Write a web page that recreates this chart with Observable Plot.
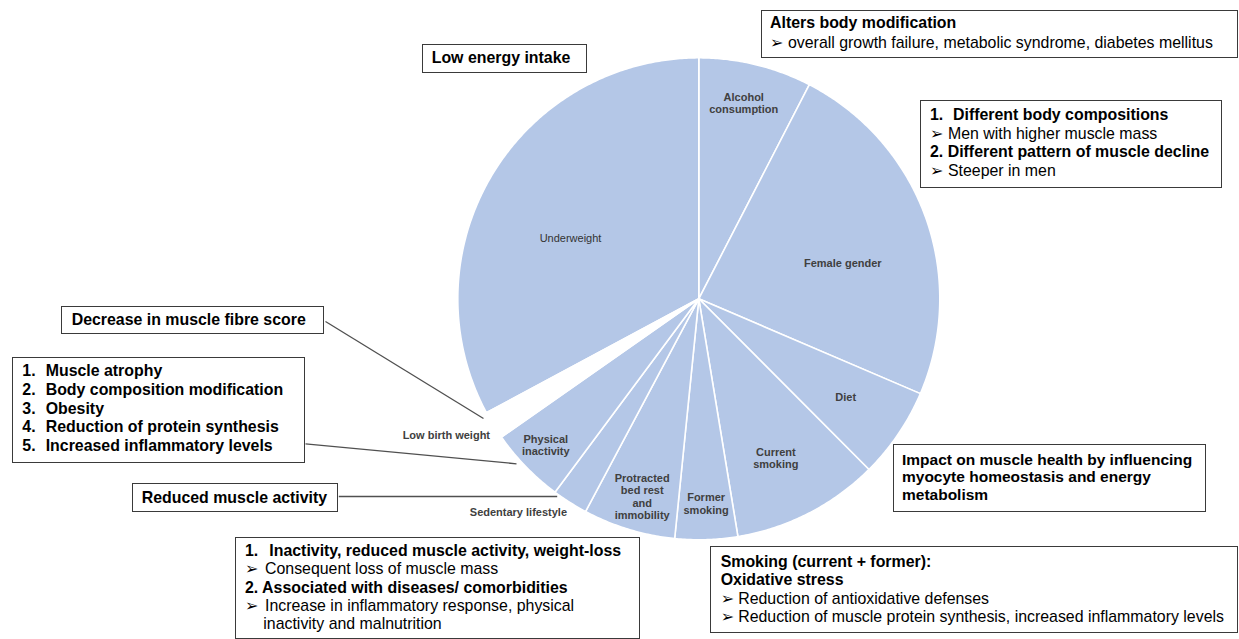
<!DOCTYPE html>
<html>
<head>
<meta charset="utf-8">
<script src="https://cdn.jsdelivr.net/npm/d3@7"></script>
<script src="https://cdn.jsdelivr.net/npm/@observablehq/plot@0.6"></script>
<style>
  html, body { margin: 0; padding: 0; background: #fff; }
  #wrap { position: relative; width: 1239px; height: 639px; overflow: hidden; font-family: "Liberation Sans", Arial, sans-serif; }
  #wrap svg { position: absolute; left: 0; top: 0; }
  .box { position: absolute; border: 1px solid #3a3a3a; background: #fff; box-sizing: border-box; }
  .ln { position: absolute; white-space: nowrap; color: #000; }
  .ar { display: inline-block; font-family: "DejaVu Sans", sans-serif; font-size: 16px; font-weight: normal; }
</style>
</head>
<body>
<div id="wrap"></div>
<script>
// ---- data ----
const categories = [
  "Alcohol consumption", "Female gender", "Diet", "Current smoking", "Former smoking",
  "Protracted bed rest and immobility", "Sedentary lifestyle", "Physical inactivity",
  "Low birth weight", "Underweight"
];
const shares = [7.6, 23.9, 6.1, 9.9, 4.2, 6.2, 2.4, 5.1, 1.9, 32.9];
const sliceLabels = [
  "Alcohol\nconsumption", "Female gender", "Diet", "Current\nsmoking", "Former\nsmoking",
  "Protracted\nbed rest\nand\nimmobility", "Sedentary lifestyle", "Physical\ninactivity",
  "Low birth weight", "Underweight"
];

// ---- layout ----
const W = 1239, H = 639;
const cx = 698.3, cy = 298.3, R = 241;
const labelLayout = {
  "Alcohol consumption": {r: 0.832, da: -0.7},
  "Female gender": {r: 0.615, da: 6.0},
  "Diet": {r: 0.733, da: -0.4},
  "Current smoking": {r: 0.735, da: 1.35},
  "Former smoking": {r: 0.85, da: -0.25},
  "Protracted bed rest and immobility": {r: 0.853, da: -0.9},
  "Sedentary lifestyle": {r: 1.16, da: 7.85},
  "Physical inactivity": {r: 0.878, da: 0.5},
  "Low birth weight": {r: 1.19, da: 3.3},
  "Underweight": {r: 0.588, da: -5.75}
};
const leaders = [
  {x1: 325, y1: 321, x2: 483, y2: 418},
  {x1: 305, y1: 443.3, x2: 516, y2: 463.3},
  {x1: 338.3, y1: 496, x2: 556.7, y2: 496}
];

const pieData = categories.map((c, i) => ({category: c, value: shares[i], label: sliceLabels[i]}));
const arcs = d3.pie().sort(null).value(d => d.value)(pieData);

const pts = [];
for (const a of arcs) {
  pts.push({category: a.data.category, x: cx, y: cy});
  const n = Math.max(2, Math.ceil((a.endAngle - a.startAngle) / (Math.PI / 360)));
  for (let k = 0; k <= n; k++) {
    const t = a.startAngle + (a.endAngle - a.startAngle) * k / n;
    pts.push({category: a.data.category, x: cx + R * Math.sin(t), y: cy - R * Math.cos(t)});
  }
}
const labels = arcs.map(a => {
  const L = labelLayout[a.data.category];
  const t = (a.startAngle + a.endAngle) / 2 + L.da * Math.PI / 180;
  return {text: a.data.label, category: a.data.category,
          x: cx + L.r * R * Math.sin(t), y: cy - L.r * R * Math.cos(t)};
});

const isGap = d => d.category === "Low birth weight";
const isPlain = d => d.category === "Underweight";
const labelFont = "Liberation Sans, Arial, sans-serif";

const plot = Plot.plot({
  width: W, height: H, margin: 0,
  x: {domain: [0, W], range: [0, W], axis: null},
  y: {domain: [0, H], range: [0, H], axis: null},
  marks: [
    Plot.line(pts.filter(d => !isGap(d)), {x: "x", y: "y", z: "category", curve: "linear-closed",
      fill: "#b4c7e7", stroke: "white", strokeWidth: 1.6}),
    Plot.line(pts.filter(isGap), {x: "x", y: "y", z: "category", curve: "linear-closed",
      fill: "white", stroke: "white", strokeWidth: 1.6}),
    Plot.link(leaders, {x1: "x1", y1: "y1", x2: "x2", y2: "y2", stroke: "#505050", strokeWidth: 1.3}),
    Plot.text(labels.filter(d => !isPlain(d)), {x: "x", y: "y", text: "text", fontSize: 11, lineHeight: 1.12,
      fontWeight: "bold", fill: "#404040", fontFamily: labelFont}),
    Plot.text(labels.filter(isPlain), {x: "x", y: "y", text: "text", fontSize: 11,
      fontWeight: "normal", fill: "#333333", fontFamily: labelFont})
  ]
});
const wrap = document.getElementById("wrap");
wrap.appendChild(plot);

// ---- annotation boxes ----
const boxes = [
  {l: 422, t: 44, r: 587, b: 73, x: 431.7, base: 63.3, lh: 18.5, fs: 15.9,
   lines: [{t: "Low energy intake", bold: true}]},
  {l: 761, t: 10, r: 1238, b: 58, x: 770, base: 28.3, lh: 20, fs: 15.9,
   lines: [{t: "Alters body modification", bold: true},
           {t: "overall growth failure, metabolic syndrome, diabetes mellitus", arrow: 18}]},
  {l: 920, t: 100, r: 1222, b: 188, x: 930, base: 120.7, lh: 18.7, fs: 15.9,
   lines: [{num: "1.", ind: 23, t: "Different body compositions", bold: true},
           {t: "Men with higher muscle mass", arrow: 18},
           {t: "2. Different pattern of muscle decline", bold: true},
           {t: "Steeper in men", arrow: 18}]},
  {l: 893, t: 444, r: 1206, b: 512, x: 902, base: 465, lh: 17.5, fs: 15.5,
   lines: [{t: "Impact on muscle health by influencing", bold: true},
           {t: "myocyte homeostasis and energy", bold: true},
           {t: "metabolism", bold: true}]},
  {l: 710, t: 546, r: 1238, b: 633, x: 720.7, base: 567.3, lh: 18.5, fs: 15.9,
   lines: [{t: "Smoking (current + former):", bold: true},
           {t: "Oxidative stress", bold: true},
           {t: "Reduction of antioxidative defenses", arrow: 17.5},
           {t: "Reduction of muscle protein synthesis, increased inflammatory levels", arrow: 17.5}]},
  {l: 235, t: 537, r: 640, b: 639, x: 245, base: 556.7, lh: 18.3, fs: 15.9,
   lines: [{num: "1.", ind: 24.3, t: "Inactivity, reduced muscle activity, weight-loss", bold: true},
           {t: "Consequent loss of muscle mass", arrow: 20},
           {t: "2. Associated with diseases/ comorbidities", bold: true},
           {t: "Increase in inflammatory response, physical", arrow: 20},
           {ind: 18.3, t: "inactivity and malnutrition"}]},
  {l: 61, t: 306, r: 324, b: 334, x: 71.7, base: 326, lh: 18.5, fs: 15.9,
   lines: [{t: "Decrease in muscle fibre score", bold: true}]},
  {l: 12, t: 357, r: 305, b: 463, x: 22.3, base: 377.3, lh: 18.6, fs: 15.9,
   lines: [{num: "1.", ind: 23.4, t: "Muscle atrophy", bold: true},
           {num: "2.", ind: 23.4, t: "Body composition modification", bold: true},
           {num: "3.", ind: 23.4, t: "Obesity", bold: true},
           {num: "4.", ind: 23.4, t: "Reduction of protein synthesis", bold: true},
           {num: "5.", ind: 23.4, t: "Increased inflammatory levels", bold: true}]},
  {l: 132, t: 483, r: 338, b: 512, x: 141.7, base: 503.3, lh: 18.5, fs: 15.9,
   lines: [{t: "Reduced muscle activity", bold: true}]}
];

for (const bx of boxes) {
  const d = document.createElement("div");
  d.className = "box";
  Object.assign(d.style, {left: bx.l + "px", top: bx.t + "px", width: (bx.r - bx.l) + "px", height: (bx.b - bx.t) + "px"});
  wrap.appendChild(d);
  const FS = bx.fs;
  const off = (bx.lh - 1.117 * FS) / 2 + 0.905 * FS;
  bx.lines.forEach((ln, i) => {
    const e = document.createElement("div");
    e.className = "ln";
    Object.assign(e.style, {
      left: bx.x + "px", top: (bx.base + i * bx.lh - off) + "px",
      fontSize: FS + "px", lineHeight: bx.lh + "px", fontWeight: ln.bold ? "bold" : "normal"
    });
    if (ln.num) {
      const s = document.createElement("span");
      s.style.display = "inline-block"; s.style.width = ln.ind + "px";
      s.textContent = ln.num; e.appendChild(s);
    } else if (ln.ind) {
      const s = document.createElement("span");
      s.style.display = "inline-block"; s.style.width = ln.ind + "px";
      e.appendChild(s);
    }
    if (ln.arrow) {
      const s = document.createElement("span");
      s.className = "ar"; s.style.width = ln.arrow + "px";
      s.textContent = "\u27A2"; e.appendChild(s);
    }
    e.appendChild(document.createTextNode(ln.t));
    wrap.appendChild(e);
  });
}
</script>
</body>
</html>
